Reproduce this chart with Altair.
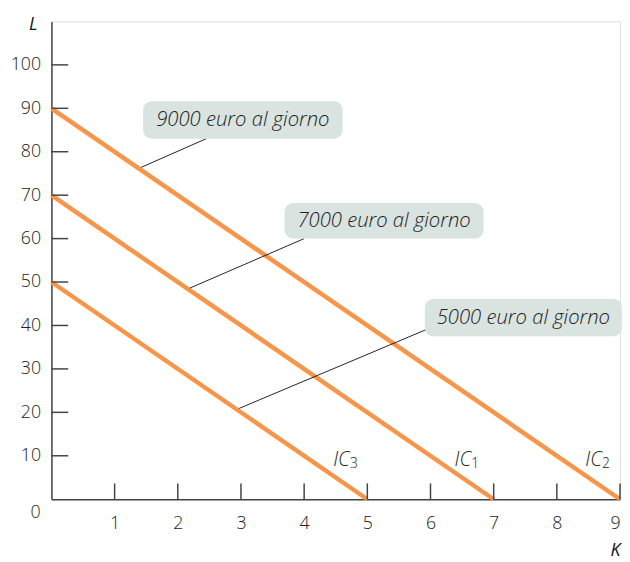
import altair as alt
import pandas as pd

# Isocost lines: L intercept and K intercept
curve_names = ["IC2", "IC1", "IC3"]
l_intercepts = [90, 70, 50]
k_intercepts = [9, 7, 5]

# Curve labels
ic_main = ["IC", "IC", "IC"]
ic_sub = ["2", "1", "3"]
ic_k = [8.45, 6.38, 4.46]
ic_l = [9.1, 9.1, 9.1]

# Callouts
callout_text = ["9000 euro al giorno", "7000 euro al giorno", "5000 euro al giorno"]
box_k1 = [1.45, 3.69, 5.91]
box_k2 = [4.61, 6.84, 9.03]
box_l1 = [83.0, 60.0, 37.5]
box_l2 = [91.6, 68.2, 46.1]
lead_k1 = [2.45, 4.0, 5.94]
lead_l1 = [83.0, 60.0, 39.1]
lead_k2 = [1.42, 2.19, 2.97]
lead_l2 = [76.4, 48.6, 20.9]

x_ticks = [1, 2, 3, 4, 5, 6, 7, 8, 9]
y_ticks = [10, 20, 30, 40, 50, 60, 70, 80, 90, 100]

FONT = "Open Sans"
TXT = "#222222"
ORANGE = "#F7964A"

rows = []
for n, li, ki in zip(curve_names, l_intercepts, k_intercepts):
    rows.append({"curve": n, "K": 0, "L": li, "o": 0})
    rows.append({"curve": n, "K": ki, "L": 0, "o": 1})
lines_df = pd.DataFrame(rows)

xs = alt.Scale(domain=[0, 9], nice=False, zero=False)
ys = alt.Scale(domain=[0, 110], nice=False, zero=False)

x_axis = alt.Axis(values=x_ticks, format="d", tickSize=0, labelPadding=16, labelFontSize=18,
                  labelFont=FONT, labelFontWeight=300, labelColor=TXT, grid=False, domainColor="#444",
                  domainWidth=1.5, title="K", titleFont=FONT, titleFontSize=18,
                  titleFontStyle="italic", titleFontWeight="normal", titleColor="#111",
                  titleX=571, titleY=52, titleAlign="center", titleBaseline="middle",
                  titleAngle=0)
y_axis = alt.Axis(values=y_ticks, format="d", tickSize=0, labelPadding=11, labelFontSize=18,
                  labelFont=FONT, labelFontWeight=300, labelColor=TXT, grid=False, domainColor="#444",
                  domainWidth=1.5, title="L", titleFont=FONT, titleFontSize=18,
                  titleFontStyle="italic", titleFontWeight="normal", titleColor="#111",
                  titleX=-19, titleY=3, titleAlign="center", titleBaseline="middle",
                  titleAngle=0)

base_lines = alt.Chart(lines_df).mark_line(color=ORANGE, strokeWidth=4.5, strokeCap="butt").encode(
    x=alt.X("K:Q", scale=xs, axis=x_axis),
    y=alt.Y("L:Q", scale=ys, axis=y_axis),
    detail="curve:N",
    order="o:Q",
)

xt_df = pd.DataFrame({"K": x_ticks})
xtick_marks = alt.Chart(xt_df).mark_rule(color="#444", strokeWidth=1.5).encode(
    x="K:Q", y=alt.value(484), y2=alt.value(468)
)
yt_df = pd.DataFrame({"L": y_ticks})
ytick_marks = alt.Chart(yt_df).mark_rule(color="#444", strokeWidth=1.5).encode(
    y="L:Q", x=alt.value(0), x2=alt.value(17)
)

zero_df = pd.DataFrame({"K": [0], "L": [0], "t": ["0"]})
zero_lbl = alt.Chart(zero_df).mark_text(font=FONT, fontSize=18, fontWeight=300, color=TXT,
                                        dx=-16, dy=14).encode(
    x="K:Q", y="L:Q", text="t:N"
)

box_df = pd.DataFrame({"k1": box_k1, "k2": box_k2, "l1": box_l1, "l2": box_l2,
                       "t": callout_text,
                       "kc": [(a + b) / 2 for a, b in zip(box_k1, box_k2)],
                       "lc": [(a + b) / 2 for a, b in zip(box_l1, box_l2)]})
boxes = alt.Chart(box_df).mark_rect(color="#D9E3E0", cornerRadius=9).encode(
    x="k1:Q", x2="k2", y="l1:Q", y2="l2"
)
box_text = alt.Chart(box_df).mark_text(font=FONT, fontSize=20.5, fontStyle="italic", fontWeight=300,
                                       color=TXT, align="center", baseline="middle").encode(
    x="kc:Q", y="lc:Q", text="t:N"
)

lead_df = pd.DataFrame({"k1": lead_k1, "l1": lead_l1, "k2": lead_k2, "l2": lead_l2})
leaders = alt.Chart(lead_df).mark_rule(color="#222", strokeWidth=1).encode(
    x="k1:Q", y="l1:Q", x2="k2", y2="l2"
)

ic_df = pd.DataFrame({"K": ic_k, "L": ic_l, "m": ic_main, "s": ic_sub})
ic_text = alt.Chart(ic_df).mark_text(font=FONT, fontSize=20, fontStyle="italic", fontWeight=300,
                                     color=TXT, align="left", baseline="middle").encode(
    x="K:Q", y="L:Q", text="m:N"
)
ic_subtext = alt.Chart(ic_df).mark_text(font=FONT, fontSize=14, fontWeight=300, color=TXT,
                                        align="left", baseline="middle", dx=17, dy=4).encode(
    x="K:Q", y="L:Q", text="s:N"
)

chart = alt.layer(
    base_lines, xtick_marks, ytick_marks, zero_lbl, leaders, boxes, box_text, ic_text, ic_subtext
).properties(
    width=576, height=484,
    autosize=alt.AutoSizeParams(type="none"),
    padding={"left": 44, "top": 10, "right": 2, "bottom": 60},
).configure_view(stroke=None).configure(background="white")

chart.save("out.html", embed_options={"renderer": "svg", "actions": False})
